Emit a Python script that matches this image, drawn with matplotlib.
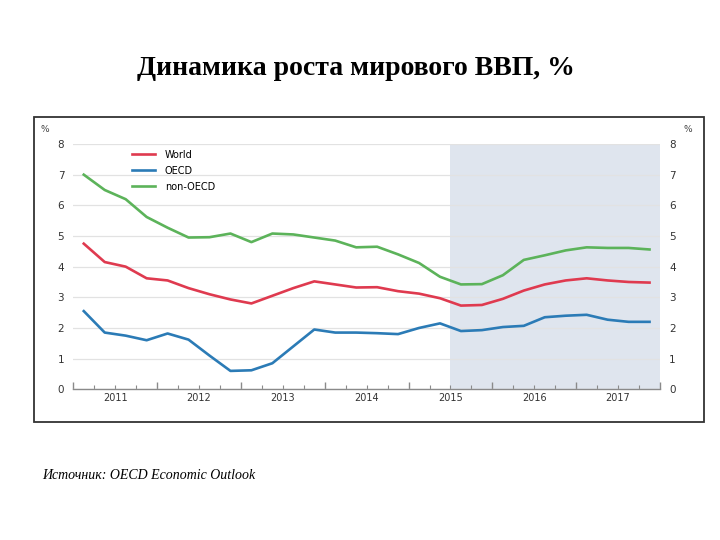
import numpy as np
import matplotlib.pyplot as plt
from matplotlib.patches import Rectangle
from matplotlib.ticker import FixedLocator, FuncFormatter

# quarterly data, 2011Q1 .. 2017Q4
quarters = [2011 + (i + 0.5) / 4 for i in range(28)]

world = [4.75, 4.15, 4.0, 3.62, 3.55, 3.3, 3.1, 2.93, 2.8, 3.05, 3.3, 3.52, 3.42, 3.32,
         3.33, 3.2, 3.12, 2.97, 2.73, 2.75, 2.95, 3.22, 3.42, 3.55, 3.62, 3.55, 3.5, 3.48]
oecd = [2.55, 1.85, 1.75, 1.6, 1.82, 1.62, 1.1, 0.6, 0.62, 0.85, 1.4, 1.95, 1.85, 1.85,
        1.83, 1.8, 2.0, 2.15, 1.9, 1.93, 2.03, 2.07, 2.35, 2.4, 2.43, 2.27, 2.2, 2.2]
non_oecd = [7.0, 6.5, 6.2, 5.62, 5.27, 4.95, 4.96, 5.08, 4.8, 5.08, 5.05, 4.95, 4.85, 4.63,
            4.65, 4.4, 4.12, 3.67, 3.42, 3.43, 3.72, 4.22, 4.37, 4.53, 4.63, 4.61, 4.61, 4.56]

years = [2011, 2012, 2013, 2014, 2015, 2016, 2017]
projection_start = 2015.5

series = [("World", world, "#df3a4f"),
          ("OECD", oecd, "#2b7bb6"),
          ("non-OECD", non_oecd, "#5cb35a")]

fig = plt.figure(figsize=(7.2, 5.4), dpi=100)

# title and source
fig.text(0.495, 0.874, "Динамика роста мирового ВВП, %", ha="center", va="center",
         family="Liberation Serif", fontweight="bold", fontsize=20)
fig.text(0.058, 0.12, "Источник: OECD Economic Outlook", ha="left", va="center",
         family="Liberation Serif", style="italic", fontsize=10)

# frame around the chart picture
fig.patches.append(Rectangle((34 / 720, 1 - 422 / 540), 670 / 720, 305 / 540,
                             transform=fig.transFigure, fill=False,
                             edgecolor="#333333", linewidth=1.3))

ax = fig.add_axes([73.3 / 720, 1 - 389.3 / 540, 586.7 / 720, 245.3 / 540])

ax.axvspan(projection_start, years[-1] + 1, color="#dfe5ee", zorder=0, lw=0)
for name, vals, col in series:
    ax.plot(quarters, vals, color=col, lw=1.9, label=name, zorder=3)

ax.set_xlim(years[0], years[-1] + 1)
ax.set_ylim(0, 8)
ax.set_yticks(range(0, 9))
ax.yaxis.grid(True, color="#e2e2e2", lw=0.9, zorder=1)
ax.set_axisbelow(True)

ax.xaxis.set_major_locator(FixedLocator(years + [years[-1] + 1]))
ax.xaxis.set_minor_locator(FixedLocator([y + q / 4 for y in years for q in (1, 2, 3)]))
ax.xaxis.set_major_formatter(FuncFormatter(lambda v, p: ""))
ax.xaxis.set_minor_formatter(FuncFormatter(lambda v, p: str(int(v)) if abs(v % 1 - 0.5) < 1e-6 else ""))

for side in ("left", "right", "top"):
    ax.spines[side].set_visible(False)
ax.spines["bottom"].set_color("#8a8a8a")
ax.spines["bottom"].set_linewidth(1.0)

ax.tick_params(axis="x", which="major", direction="in", length=5, width=1, color="#8a8a8a")
ax.tick_params(axis="x", which="minor", direction="in", length=3, width=0.8, color="#8a8a8a",
               labelsize=7, labelcolor="#333333", pad=3)
ax.tick_params(axis="y", left=False, right=False, labelleft=True, labelright=True,
               labelsize=7.5, labelcolor="#333333", pad=3)

fig.text(45 / 720, 1 - 129 / 540, "%", fontsize=6.5, color="#444444", ha="center", va="center")
fig.text(688 / 720, 1 - 129 / 540, "%", fontsize=6.5, color="#444444", ha="center", va="center")

ax.legend(loc="upper left", bbox_to_anchor=(0.09, 1.0), frameon=False, fontsize=7,
          handlelength=2.4, handletextpad=1.0, labelspacing=0.6, borderaxespad=0.2)

fig.savefig("out.png", dpi=100, facecolor="white")
